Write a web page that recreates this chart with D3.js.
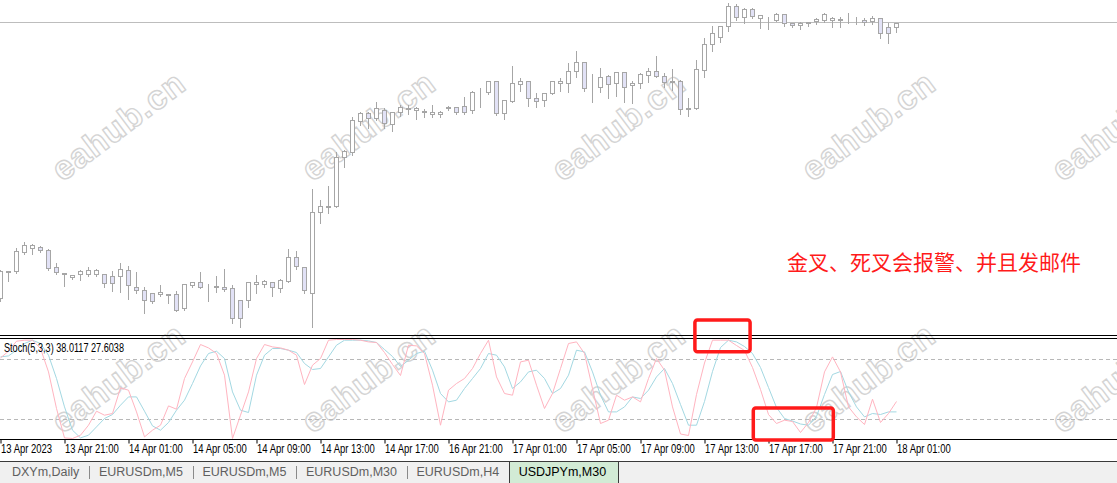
<!DOCTYPE html>
<html><head><meta charset="utf-8">
<script src="https://cdn.jsdelivr.net/npm/d3@7/dist/d3.min.js"></script>
<style>
html,body{margin:0;padding:0;background:#fff;overflow:hidden}
svg{display:block}
</style></head><body>
<svg id="c" width="1117" height="483"></svg>
<script>
// ---------------- DATA ----------------
const open=[133.205,133.338,133.340,133.435,133.455,133.460,133.445,133.360,133.330,133.310,
133.325,133.325,133.325,133.325,133.315,133.315,133.345,133.265,133.245,133.230,
133.225,133.228,133.225,133.155,133.270,133.285,133.265,133.263,133.265,133.255,
133.195,133.195,133.275,133.275,133.285,133.255,133.290,133.410,133.360,133.230,
133.635,133.660,133.665,133.910,133.935,134.090,134.130,134.105,134.145,134.075,
134.140,134.153,134.145,134.140,134.125,134.125,134.155,134.160,134.170,134.145,
134.235,134.235,134.290,134.130,134.190,134.275,134.290,134.205,134.195,134.230,
134.280,134.280,134.340,134.385,134.263,134.260,134.315,134.280,134.335,134.270,
134.280,134.320,134.340,134.315,134.285,134.295,134.155,134.155,134.345,134.475,
134.515,134.565,134.670,134.610,134.650,134.605,134.603,134.595,134.625,134.580,
134.570,134.583,134.590,134.595,134.595,134.598,134.600,134.600,134.598,134.590,
134.605,134.560,134.560];
const high=[133.350,133.343,133.460,133.490,133.480,133.470,133.455,133.385,133.333,133.325,
133.350,133.365,133.355,133.330,133.345,133.385,133.370,133.340,133.265,133.235,
133.275,133.230,133.245,133.280,133.290,133.340,133.280,133.320,133.355,133.275,
133.200,133.290,133.325,133.300,133.290,133.305,133.455,133.445,133.365,133.755,
133.700,133.770,133.940,133.950,134.115,134.140,134.140,134.190,134.160,134.140,
134.175,134.175,134.165,134.155,134.175,134.145,134.168,134.163,134.215,134.245,
134.260,134.295,134.295,134.200,134.370,134.310,134.293,134.235,134.235,134.295,
134.310,134.385,134.445,134.390,134.330,134.360,134.325,134.340,134.338,134.295,
134.335,134.360,134.420,134.335,134.355,134.300,134.210,134.400,134.510,134.570,
134.570,134.685,134.680,134.660,134.660,134.620,134.615,134.635,134.625,134.585,
134.590,134.590,134.610,134.635,134.615,134.615,134.635,134.615,134.610,134.620,
134.610,134.585,134.585];
const low=[133.195,133.295,133.335,133.430,133.430,133.440,133.352,133.330,133.270,133.305,
133.300,133.320,133.320,133.265,133.245,133.240,133.205,133.235,133.135,133.185,
133.220,133.185,133.145,133.150,133.265,133.260,133.195,133.240,133.245,133.085,
133.065,133.165,133.235,133.265,133.220,133.240,133.288,133.355,133.235,133.065,
133.585,133.635,133.663,133.865,133.925,134.075,134.060,134.100,134.060,134.045,
134.120,134.130,134.105,134.115,134.115,134.115,134.150,134.130,134.130,134.135,
134.165,134.230,134.125,134.105,134.188,134.245,134.170,134.165,134.170,134.228,
134.245,134.240,134.315,134.245,134.190,134.240,134.210,134.220,134.190,134.185,
134.260,134.290,134.313,134.265,134.250,134.130,134.120,134.153,134.315,134.445,
134.490,134.545,134.600,134.585,134.608,134.560,134.555,134.593,134.570,134.565,
134.555,134.570,134.580,134.590,134.565,134.565,134.585,134.580,134.575,134.580,
134.510,134.485,134.540];
const close=[133.340,133.340,133.440,133.470,133.470,133.445,133.357,133.335,133.325,133.322,
133.340,133.345,133.345,133.280,133.280,133.350,133.270,133.245,133.195,133.190,
133.235,133.222,133.148,133.275,133.285,133.265,133.263,133.268,133.250,133.105,
133.105,133.288,133.285,133.290,133.260,133.295,133.410,133.365,133.245,133.635,
133.665,133.665,133.910,133.940,134.095,134.130,134.105,134.155,134.080,134.135,
134.160,134.158,134.155,134.143,134.140,134.135,134.163,134.135,134.140,134.235,
134.238,134.290,134.130,134.195,134.280,134.290,134.205,134.190,134.230,134.290,
134.290,134.340,134.385,134.255,134.260,134.310,134.275,134.335,134.265,134.280,
134.325,134.340,134.315,134.285,134.295,134.150,134.150,134.350,134.475,134.530,
134.565,134.670,134.610,134.650,134.615,134.620,134.600,134.625,134.580,134.570,
134.580,134.585,134.600,134.625,134.605,134.600,134.603,134.600,134.588,134.605,
134.530,134.530,134.580];
const stochMain=[81.6,88.3,98.3,99.3,99.3,91,67.6,31,1.6,1,
4.3,14.3,28.3,24.3,26,51.6,49.3,27.6,2.6,9.3,
14.3,33.6,30.3,61,77.6,95,91.6,86,64.3,1,
24.3,47.6,81,95,92.6,91.6,89.3,84.3,55,74.3,
81,99.3,100,100,100,99.3,97.6,97,87,75,
64,94.3,93.6,86,54.3,14.3,49.3,56,61,71,
86,99.3,62.6,46,44.3,77.6,79.3,54.3,31,46,
71,96,97.6,86,51,16,19.3,44.3,39.3,42.6,
37.6,61,81,69.3,32.6,5.5,4,45,76.5,99.3,
99.3,99.3,94,89,72,50,25,16,19.3,18,
7,17,32,67.6,82.6,67.6,32.6,22.6,15,40.3,
17,26,38.0117];
const stochSignal=[82.6,83.6,89.3,96,99.3,96,84.3,61,32.6,9.3,
1.6,4.3,12.6,21,25,34.3,42.6,42.6,28.3,13.6,
9.3,17,29.3,39.3,56,73.6,86,88.3,81,47.6,
29.3,27,64.3,84.3,91,91,89.3,87,76,70,
71,82.6,94.3,99.3,99.3,99.3,98.6,97,90,83,
73,79.3,86,88.3,69.3,46,37.6,39.3,51,61,
71,86,84.3,72.6,51,57.6,67.6,69.3,61,46,
51,64.3,89.3,87.6,67.6,44.3,27.6,27.6,32.6,42.6,
41,49.3,62.6,71,56,35,14.3,14.3,38,68,
92,99.3,97.6,93,86,72,52,32,21,18.5,
15.5,14.3,23,45,65,68,47.6,32.6,22.6,26,
25,27.6,27.6038];
const tickIndex=[0,8,16,24,32,40,48,56,64,72,80,88,96,104,112];
const tickLabels=["13 Apr 2023","13 Apr 21:00","14 Apr 01:00","14 Apr 05:00","14 Apr 09:00","14 Apr 13:00","14 Apr 17:00","16 Apr 21:00","17 Apr 01:00","17 Apr 05:00","17 Apr 09:00","17 Apr 13:00","17 Apr 17:00","17 Apr 21:00","18 Apr 01:00"];
const stochLevels=[80,20];
const legendText="Stoch(5,3,3) 38.0117 27.6038";
const tabs=["DXYm,Daily","EURUSDm,M5","EURUSDm,M5","EURUSDm,M30","EURUSDm,H4","USDJPYm,M30"];
const activeTab=5;
const note="金叉、死叉会报警、并且发邮件";
const watermark="eahub.cn";
// annotation boxes: candle index range and stochastic value range
const boxes=[{i0:86.8,i1:93.7,v0:87.8,v1:119.5},{i0:94.1,i1:104.1,v0:-0.5,v1:31.5}];

// ---------------- CHART ----------------
const svg=d3.select('#c');
const W=1117;
const sans="'Liberation Sans',Arial,sans-serif";
const x=d3.scaleLinear().domain([0,open.length-1]).range([0.5,896.5]);
const y=d3.scaleLinear().domain([133.015,134.700]).range([337,0]);
const ys=d3.scaleLinear().domain([0,100]).range([439.5,339.5]);
const px=v=>Math.round(v-0.5)+0.5;
function condense(sel,f){
  sel.each(function(){const w=this.getComputedTextLength();
    d3.select(this).attr('textLength',w*f).attr('lengthAdjust','spacingAndGlyphs');});
}

// watermarks
const wm=svg.append('g');
[128,380].forEach(cy=>{
  [120,370,620,870,1120].forEach(cx=>{
    wm.append('text').attr('transform',`translate(${cx},${cy}) rotate(-37)`)
      .attr('text-anchor','middle').attr('dominant-baseline','middle')
      .style('font-family',sans).style('font-weight','bold')
      .style('font-size','34px').style('letter-spacing','1px')
      .attr('fill','none').attr('stroke','#d4d4d4').attr('stroke-width',1.4)
      .text(watermark);
  });
});

// bid line
svg.append('line').attr('x1',0).attr('x2',W)
  .attr('y1',px(y(close[close.length-1]))-1).attr('y2',px(y(close[close.length-1]))-1)
  .attr('stroke','#bdbdbd');

// candles
svg.append('clipPath').attr('id','mainClip').append('rect').attr('x',0).attr('y',0).attr('width',W).attr('height',335);
const cg=svg.append('g').attr('clip-path','url(#mainClip)');
const idx=d3.range(open.length);
cg.selectAll('line.w').data(idx).join('line').attr('class','w')
  .attr('x1',i=>x(i)).attr('x2',i=>x(i))
  .attr('y1',i=>Math.round(y(high[i]))).attr('y2',i=>Math.round(y(low[i]))+1)
  .attr('stroke','#a6a6a6');
cg.selectAll('rect.b').data(idx).join('rect').attr('class','b')
  .attr('x',i=>x(i)-2).attr('width',4)
  .attr('y',i=>px(y(Math.max(open[i],close[i]))))
  .attr('height',i=>Math.max(0,px(y(Math.min(open[i],close[i])))-px(y(Math.max(open[i],close[i])))))
  .attr('fill',i=>close[i]<open[i]?'#e2e2f6':'#ffffff')
  .attr('stroke','#a6a6a6');

// stochastic panel
svg.append('clipPath').attr('id','stClip').append('rect').attr('x',0).attr('y',339).attr('width',W).attr('height',101);
const sg=svg.append('g').attr('clip-path','url(#stClip)');
sg.selectAll('line.lv').data(stochLevels).join('line').attr('class','lv')
  .attr('x1',0).attr('x2',W).attr('y1',d=>ys(d)).attr('y2',d=>ys(d))
  .attr('stroke','#b8b8b8').attr('stroke-dasharray','4,3');
const ln=d3.line().x((d,i)=>x(i)).y(d=>ys(d));
sg.append('path').datum(stochSignal).attr('d',ln).attr('fill','none').attr('stroke','#a3d8e2').attr('stroke-width',1);
sg.append('path').datum(stochMain).attr('d',ln).attr('fill','none').attr('stroke','#ffb4c0').attr('stroke-width',1);

// panel borders
[335.5,338.5,439.5].forEach(v=>svg.append('line').attr('x1',0).attr('x2',W).attr('y1',v).attr('y2',v).attr('stroke','#000'));

const lg=svg.append('text').attr('x',4).attr('y',351.8).style('font-family',sans).style('font-size','12px').attr('fill','#000').text(legendText);
condense(lg,0.76);

// time axis
const ax=svg.append('g').attr('transform','translate(0,439.5)')
  .call(d3.axisBottom(x).tickValues(tickIndex).tickFormat((d,i)=>tickLabels[i]).tickSize(4).tickSizeOuter(0));
ax.select('.domain').remove();
ax.selectAll('.tick line').attr('stroke','#000');
ax.selectAll('.tick text').attr('text-anchor','start').attr('x',0).attr('y',13).attr('dy',0)
  .style('font-family',sans).style('font-size','12px').attr('fill','#000');
condense(ax.selectAll('.tick text'),0.79);

// annotation boxes
svg.selectAll('rect.ann').data(boxes).join('rect').attr('class','ann')
  .attr('x',d=>x(d.i0)).attr('width',d=>x(d.i1)-x(d.i0))
  .attr('y',d=>ys(d.v1)).attr('height',d=>ys(d.v0)-ys(d.v1))
  .attr('rx',2.5).attr('fill','none').attr('stroke','#ff1a1a').attr('stroke-width',3.5);

// note text
svg.append('text').attr('x',787).attr('y',270).style('font-family',"'Noto Sans CJK SC',sans-serif")
  .style('font-size','21px').attr('fill','#ff1a1a').text(note);

// tab bar
svg.append('rect').attr('x',0).attr('y',461).attr('width',W).attr('height',22).attr('fill','#f0f0f0');
svg.append('line').attr('x1',0).attr('x2',W).attr('y1',461.5).attr('y2',461.5).attr('stroke','#3a3a3a');
const tg=svg.append('g');
let cx=12;
tabs.forEach((t,i)=>{
  const g=tg.append('g');
  const tx=g.append('text').attr('x',cx).attr('y',476).style('font-family',sans)
    .style('font-size','12.5px').attr('fill',i===activeTab?'#000':'#5f5f5f').text(t);
  const w=tx.node().getComputedTextLength();
  if(i===activeTab){
    g.insert('rect','text').attr('x',Math.round(cx-10)+0.5).attr('y',461.5).attr('width',Math.round(w+21)).attr('height',24)
      .attr('fill','#d2ebd5').attr('stroke','#3a3a3a');
  } else {
    g.append('line').attr('x1',Math.round(cx+w+10)+0.5).attr('x2',Math.round(cx+w+10)+0.5)
      .attr('y1',466).attr('y2',479).attr('stroke','#8a8a8a');
  }
  cx+=w+19.5;
});
</script>
</body></html>
